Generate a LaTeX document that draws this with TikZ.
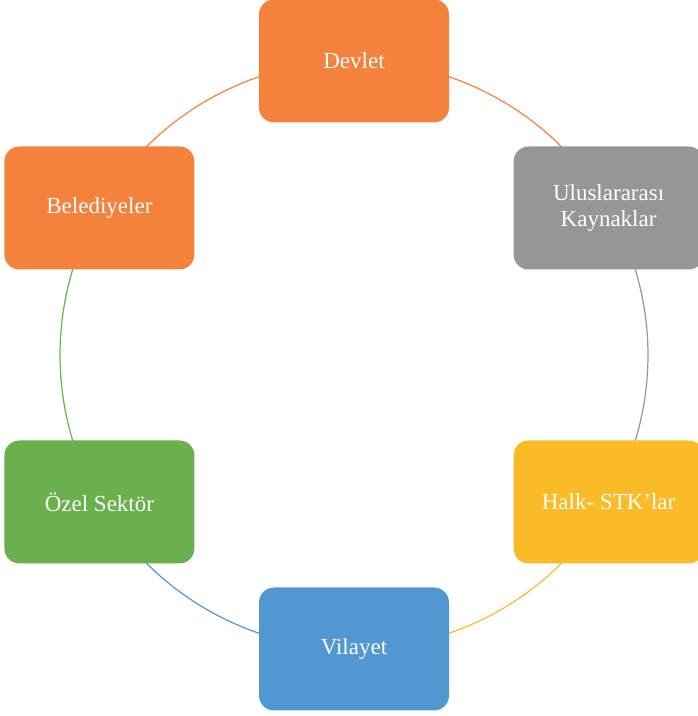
\documentclass[tikz,border=0pt]{standalone}
\usepackage{fontspec}
\setmainfont{Liberation Serif}
\usepackage{xcolor}
\usetikzlibrary{backgrounds}
\definecolor{turuncu}{HTML}{F4823C}
\definecolor{gri}{HTML}{949698}
\definecolor{sari}{HTML}{FBBB27}
\definecolor{mavi}{HTML}{5197D1}
\definecolor{yesil}{HTML}{6BB04F}
\tikzset{
	kutu/.style={rectangle,rounded corners=15pt,minimum width=190pt,minimum height=123pt,
		inner sep=0pt,align=center,text=white,font=\fontsize{23}{26}\selectfont},
	yay/.style={line width=1.2pt}
}

\begin{document}
\begin{tikzpicture}[x=1pt,y=1pt]
	\useasboundingbox (0,0) rectangle (698,716);
	\node [kutu,fill=turuncu] (devlet) at (354,655) {Devlet};
	\node [kutu,fill=gri] (ulus) at (608.6,508) {Uluslararası\\Kaynaklar};
	\node [kutu,fill=sari] (halk) at (608.6,214) {Halk- STK’lar};
	\node [kutu,fill=mavi] (vilayet) at (354,67) {Vilayet};
	\node [kutu,fill=yesil] (ozel) at (99.4,214) {Özel Sektör};
	\node [kutu,fill=turuncu] (belediye) at (99.4,508) {Belediyeler};
	\begin{scope}[on background layer]
		\draw [yay,draw=turuncu] (devlet.center) arc[start angle=90,end angle=30,radius=294pt];
		\draw [yay,draw=gri] (ulus.center) arc[start angle=30,end angle=-30,radius=294pt];
		\draw [yay,draw=sari] (halk.center) arc[start angle=-30,end angle=-90,radius=294pt];
		\draw [yay,draw=mavi] (vilayet.center) arc[start angle=-90,end angle=-150,radius=294pt];
		\draw [yay,draw=yesil] (ozel.center) arc[start angle=210,end angle=150,radius=294pt];
		\draw [yay,draw=turuncu] (belediye.center) arc[start angle=150,end angle=90,radius=294pt];
	\end{scope}
\end{tikzpicture}
\end{document}
